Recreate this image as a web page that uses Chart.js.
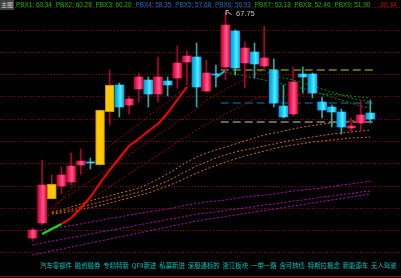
<!DOCTYPE html>
<html>
<head>
    <title>K线</title>
    <script src="https://cdn.jsdelivr.net/npm/chart.js"></script>
    <style>
        body { margin: 0; background: #000; width: 401px; height: 278px; overflow: hidden; position: relative; }
        #myChart { position: absolute; left: 0; top: 0; }
        .hdr { position: absolute; top: 0; font: 6.4px "Liberation Sans", Arial, sans-serif; line-height: 10px; white-space: nowrap; }
        #main { position: absolute; left: 0; top: 0; width: 14px; height: 10px; background: #404040; color: #d0d0d0; font: 6px "Noto Sans CJK SC", sans-serif; line-height: 10px; text-align: center; white-space: nowrap; }
        #tags { position: absolute; left: 40px; top: 261px; color: #00c0c0; font: 6.4px "Noto Sans CJK SC", sans-serif; line-height: 10px; white-space: pre; }
        #hi { position: absolute; left: 236px; top: 9px; color: #c0c0c0; font: 7.5px "Liberation Sans", Arial, sans-serif; line-height: 10px; }
    </style>
</head>
<body>
    <canvas id="myChart" width="401" height="278"></canvas>
    <div id="main">主图</div>
    <div id="header"></div>
    <div id="hi">67.75</div>
    <div id="tags"></div>
    <script>
        // daily candles
        const opens  = [45.15, 46.65, 49.05, 50.35, 50.75, 52.45, 52.75, 52.45, 57.75, 60.45, 58.45, 60.05, 60.95, 59.55, 60.85, 61.15, 62.75, 63.25, 59.85, 61.55, 62.25, 65.85, 62.65, 63.75, 62.35, 61.95, 58.35, 57.55, 61.55, 61.55, 58.75, 58.25, 57.75, 56.15, 56.65, 57.65];
        const highs  = [46.15, 52.95, 51.45, 52.25, 53.65, 54.05, 53.15, 57.95, 61.95, 60.65, 59.35, 61.65, 61.25, 63.25, 61.25, 64.35, 63.85, 64.65, 62.95, 62.45, 67.75, 65.95, 64.75, 64.65, 66.35, 63.05, 60.45, 62.25, 62.25, 61.65, 59.25, 58.45, 58.05, 57.15, 58.85, 58.95];
        const lows   = [44.85, 46.45, 49.05, 49.55, 50.45, 51.55, 52.05, 52.45, 56.45, 57.25, 57.55, 58.75, 58.25, 58.75, 59.35, 60.15, 60.45, 58.25, 59.75, 60.25, 60.95, 61.45, 60.15, 61.15, 62.15, 58.25, 57.15, 57.35, 59.65, 59.15, 57.15, 56.25, 55.55, 55.75, 55.95, 56.65];
        const closes = [45.95, 50.45, 50.55, 51.45, 52.35, 52.85, 52.65, 57.95, 60.45, 58.25, 59.05, 61.25, 59.55, 61.25, 60.45, 62.65, 63.35, 60.25, 61.65, 61.45, 66.45, 62.15, 64.15, 62.55, 63.15, 58.65, 57.25, 60.75, 61.25, 59.65, 57.95, 57.75, 56.25, 56.35, 57.45, 57.05];
        const signalDays = [2, 7, 8];   // yellow candles

        // solid trend line (green part first, red after)
        const trend = [null, 45.55, 46.05, 46.55, 47.15, 48.15, 49.25, 50.65, 51.95, 53.15, 54.35, 55.05, 55.85, 56.55, 57.65, 58.95, 60.25];
        const trendTail = [null, null, null, null, null, null, null, null, null, null, null, null, null, null, null, null, null, null, null, 61.2, 61.9];

        // dotted lines: red while rising, green while falling
        const fast1 = [null, 46.75, 47.75, 48.95, 50.15, 51.35, 52.35, 53.45, 54.35, 55.15, 55.85, 56.55, 57.35, 58.05, 58.75, 59.55, 60.25, 60.95, 61.35, 61.55, 61.75, 61.55, 61.35, 61.15, 60.95, 60.75, 60.55, 60.35, 60.10, 59.85, 59.55, 59.25, 58.95, 58.65, 58.35, 58.15];
        const fast2 = [null, null, 48.25, 48.95, 49.55, 50.25, 50.85, 51.55, 52.15, 52.85, 53.45, 54.15, 54.75, 55.45, 56.05, 56.75, 57.35, 58.05, 58.95, 59.45, 60.05, 60.55, 61.05, 61.55, 61.95, 61.35, 61.15, 60.95, 60.70, 60.35, 60.05, 59.75, 59.45, 59.15, 58.95, 58.75];
        const fast3 = [null, null, null, null, 47.75, 48.35, 49.00, 49.65, 50.25, 50.95, 51.55, 52.15, 52.80, 53.45, 54.05, 54.75, 55.35, 55.95, 56.50, 57.00, 57.55, 58.05, 58.55, 59.05, 59.30, 59.40, 59.45, 59.50, 59.55, 59.55, 59.55, 59.50, 59.45, 59.35, 59.25, 59.15];
        // orange dotted lines
        const orange1 = [null, null, 47.75, 47.95, 48.25, 48.55, 48.85, 49.15, 49.35, 49.65, 49.85, 50.15, 50.55, 51.05, 51.55, 52.15, 52.75, 53.25, 53.65, 53.95, 54.25, 54.55, 54.85, 55.15, 55.45, 55.65, 55.85, 56.05, 56.25, 56.40, 56.55, 56.65, 56.75, 56.85, 56.95, 57.05];
        const orange2 = [null, null, 47.65, 47.80, 48.00, 48.25, 48.50, 48.75, 49.00, 49.25, 49.50, 49.75, 50.05, 50.45, 50.85, 51.35, 51.85, 52.35, 52.75, 53.15, 53.45, 53.75, 53.95, 54.15, 54.35, 54.55, 54.75, 54.95, 55.10, 55.25, 55.40, 55.55, 55.65, 55.75, 55.85, 55.95];
        const orange3 = [null, null, 47.55, 47.65, 47.80, 48.00, 48.20, 48.40, 48.65, 48.90, 49.15, 49.40, 49.65, 50.00, 50.35, 50.75, 51.20, 51.65, 52.05, 52.40, 52.75, 53.05, 53.35, 53.60, 53.85, 54.10, 54.30, 54.45, 54.60, 54.75, 54.85, 54.95, 55.05, 55.15, 55.20, 55.25];
        // magenta dotted lines
        const magenta1 = [45.75, 45.95, 46.10, 46.25, 46.40, 46.55, 46.75, 46.90, 47.10, 47.25, 47.45, 47.60, 47.75, 47.90, 48.05, 48.25, 48.45, 48.60, 48.75, 48.85, 48.95, 49.10, 49.25, 49.35, 49.45, 49.55, 49.70, 49.85, 49.95, 50.05, 50.15, 50.30, 50.45, 50.55, 50.70, 50.85];
        const magenta2 = [44.45, 44.65, 44.85, 45.00, 45.20, 45.35, 45.55, 45.75, 45.90, 46.10, 46.25, 46.45, 46.65, 46.80, 47.00, 47.15, 47.35, 47.55, 47.65, 47.75, 47.90, 48.05, 48.15, 48.30, 48.45, 48.55, 48.70, 48.85, 48.95, 49.10, 49.25, 49.35, 49.50, 49.60, 49.75, 49.85];
        const magenta3 = [43.45, 43.65, 43.85, 44.05, 44.25, 44.45, 44.65, 44.85, 45.05, 45.25, 45.45, 45.65, 45.85, 46.05, 46.25, 46.45, 46.65, 46.85, 47.00, 47.15, 47.30, 47.45, 47.60, 47.75, 47.90, 48.05, 48.20, 48.35, 48.50, 48.65, 48.80, 48.95, 49.10, 49.25, 49.40, 49.55];

        // pressure / support levels
        const levelStart = 19.5;
        const levelYellow = 61.95;
        const levelBlue = 58.65;
        const levelWhite = 56.75;

        const pbxNames = ['PBX1', 'PBX2', 'PBX3', 'PBX4', 'PBX5', 'PBX6', 'PBX7', 'PBX8', 'PBX9'];
        const pbxValues = [60.34, 60.28, 60.20, 58.35, 57.68, 56.93, 53.18, 52.46, 51.90];
        const lastValue = 60.34;
        const tags = ['汽车零部件', '融资融券', '专精特新', 'QFII新进', '私募新进', '深股通标的', '浙江板块', '一带一路', '含可转债', '特斯拉概念', '新能源车', '无人驾驶'];

        // header
        const header = document.getElementById('header');
        const pbxColors = ['#00c000', '#00c000', '#00c000', '#0078d0', '#0078d0', '#0078d0', '#00c000', '#00c000', '#00c000'];
        pbxNames.forEach((name, i) => {
            const s = document.createElement('span');
            s.className = 'hdr';
            s.style.left = (16 + i * 39.8) + 'px';
            s.style.color = pbxColors[i];
            s.textContent = name + ': ' + pbxValues[i].toFixed(2);
            header.appendChild(s);
        });
        const last = document.createElement('span');
        last.className = 'hdr';
        last.style.left = '377px';
        last.style.color = '#d00000';
        last.textContent = ': ' + lastValue.toFixed(2);
        header.appendChild(last);
        document.getElementById('tags').textContent = tags.join('  ');

        const n = opens.length;
        const pts = arr => arr.map((v, i) => ({x: i, y: v}));
        const isUp = i => closes[i] >= opens[i];

        const bodies = opens.map((o, i) => ({x: i, y: [Math.min(o, closes[i]), Math.max(o, closes[i])]}));
        const wicks = opens.map((o, i) => ({x: i, y: [lows[i], highs[i]]}));

        const ctx = document.getElementById('myChart').getContext('2d');

        function bodyColor(c) {
            const i = c.dataIndex;
            if (signalDays.includes(i)) return '#ffc800';
            const up = isUp(i);
            const xs = c.chart.scales.x;
            const cx = xs ? xs.getPixelForValue(i) : NaN;
            if (!isFinite(cx)) return up ? '#f0104c' : '#10c8ff';
            const g = c.chart.ctx.createLinearGradient(cx - 4.5, 0, cx + 4.5, 0);
            if (up) {
                g.addColorStop(0, '#c8002c');
                g.addColorStop(0.45, '#ff3c78');
                g.addColorStop(0.6, '#ff5c90');
                g.addColorStop(1, '#d80036');
            } else {
                g.addColorStop(0, '#0098e0');
                g.addColorStop(0.45, '#20d8ff');
                g.addColorStop(0.6, '#60ecff');
                g.addColorStop(1, '#00a8f0');
            }
            return g;
        }

        const dotted = (data, color) => ({
            type: 'line',
            data: pts(data),
            borderColor: color,
            borderWidth: 1,
            borderDash: [2, 2],
            pointRadius: 0,
            tension: 0,
            order: 3
        });
        const turning = data => ({
            type: 'line',
            data: pts(data),
            borderWidth: 1,
            borderDash: [2, 2],
            pointRadius: 0,
            tension: 0,
            segment: {
                borderColor: c => c.p1.parsed.y >= c.p0.parsed.y ? '#a80000' : '#009000'
            },
            order: 3
        });
        const level = (value, color) => ({
            type: 'line',
            data: [{x: levelStart, y: value}, {x: n - 0.4, y: value}],
            borderColor: color,
            borderWidth: 1,
            borderDash: [8, 4],
            pointRadius: 0,
            order: 3
        });

        const backdrop = {
            id: 'backdrop',
            beforeDraw(chart) {
                const c = chart.ctx;
                const y = chart.scales.y;
                c.save();
                c.fillStyle = '#000';
                c.fillRect(0, 0, chart.width, chart.height);
                c.strokeStyle = '#900000';
                c.lineWidth = 1;
                c.setLineDash([1, 2]);
                for (let v = 68.23; v > 42; v -= 2.23) {
                    const py = Math.round(y.getPixelForValue(v)) + 0.5;
                    c.beginPath();
                    c.moveTo(0, py);
                    c.lineTo(chart.width, py);
                    c.stroke();
                }
                c.setLineDash([]);
                c.strokeStyle = '#a00000';
                c.beginPath();
                c.moveTo(0, 276.5);
                c.lineTo(chart.width, 276.5);
                c.stroke();
                c.restore();
            },
            afterDraw(chart) {
                // marker at the highest price
                const c = chart.ctx;
                const k = highs.indexOf(Math.max(...highs));
                const px = chart.scales.x.getPixelForValue(k);
                const py = chart.scales.y.getPixelForValue(highs[k]);
                c.save();
                c.strokeStyle = '#c0c0c0';
                c.lineWidth = 1;
                c.beginPath();
                c.moveTo(px + 0.5, py + 3);
                c.lineTo(px + 0.5, py - 1.5);
                c.lineTo(px + 3, py - 1.5);
                c.moveTo(px + 2, py);
                c.lineTo(px + 6, py + 2.5);
                c.stroke();
                c.restore();
            }
        };

        new Chart(ctx, {
            data: {
                datasets: [
                    {
                        type: 'bar',
                        data: bodies,
                        grouped: false,
                        barThickness: 9,
                        backgroundColor: bodyColor,
                        borderColor: c => signalDays.includes(c.dataIndex) ? '#b88a00' : 'rgba(0,0,0,0)',
                        borderWidth: c => signalDays.includes(c.dataIndex) ? 1 : 0,
                        borderSkipped: false,
                        order: 0
                    },
                    {
                        type: 'bar',
                        data: wicks,
                        grouped: false,
                        barThickness: 1,
                        backgroundColor: c => isUp(c.dataIndex) || signalDays.includes(c.dataIndex) ? '#b00030' : '#30a8a8',
                        borderWidth: 0,
                        order: 1
                    },
                    {
                        type: 'line',
                        data: pts(trend),
                        borderWidth: 2,
                        pointRadius: 0,
                        segment: {
                            borderColor: c => c.p0DataIndex < 3 ? '#10e010' : '#ff0000'
                        },
                        order: 2
                    },
                    {
                        type: 'line',
                        data: pts(trendTail),
                        borderColor: '#00c0ff',
                        borderWidth: 2,
                        pointRadius: 0,
                        order: 2
                    },
                    turning(fast1),
                    turning(fast2),
                    turning(fast3),
                    dotted(orange1, '#d07000'),
                    dotted(orange2, '#d07000'),
                    dotted(orange3, '#d07000'),
                    dotted(magenta1, '#c000c0'),
                    dotted(magenta2, '#c000c0'),
                    dotted(magenta3, '#c000c0'),
                    level(levelYellow, '#c8c800'),
                    level(levelBlue, '#2070b0'),
                    level(levelWhite, '#c8c8c8')
                ]
            },
            options: {
                responsive: false,
                animation: false,
                devicePixelRatio: 1,
                layout: { padding: 0 },
                plugins: { legend: { display: false }, tooltip: { enabled: false } },
                scales: {
                    x: { type: 'linear', min: -0.77, max: 35.58, display: false },
                    y: { type: 'linear', min: 41.15, max: 68.95, display: false }
                }
            },
            plugins: [backdrop]
        });
    </script>
</body>
</html>
